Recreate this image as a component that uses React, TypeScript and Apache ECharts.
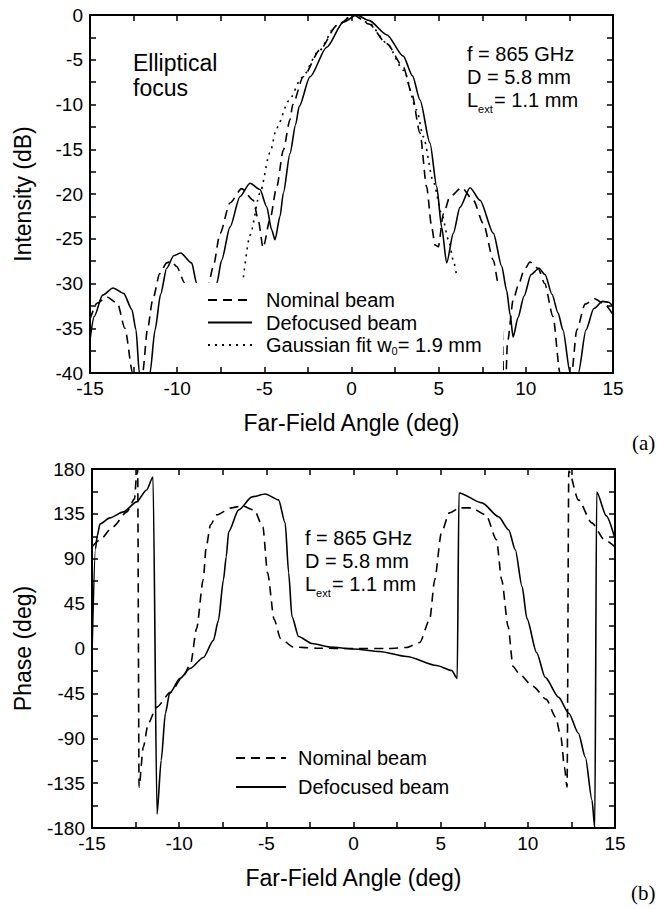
import React, { useEffect, useRef } from 'react';
import * as echarts from 'echarts';

// ---------- tick labels ----------
const angleTicks = [-15, -10, -5, 0, 5, 10, 15];
const intensityTicks = [-40, -35, -30, -25, -20, -15, -10, -5, 0];
const phaseTicks = [-180, -135, -90, -45, 0, 45, 90, 135, 180];

// ---------- series names ----------
const nominalName = 'Nominal beam';
const defocusedName = 'Defocused beam';
const gaussianName = 'Gaussian fit w0= 1.9 mm';

// ---------- (a) intensity (dB) vs far-field angle (deg) ----------
const intensityNominal: [number, number][] = [
  [-15, -34.0], [-14.6, -32.2], [-14.04, -31.5], [-13.43, -32.2], [-13.0, -35.0], [-12.55, -40], [-12.27, -46],
  [-11.98, -40], [-11.71, -35.2], [-11.4, -31.8], [-11.0, -28.9], [-10.6, -27.7], [-10.35, -27.5], [-10.03, -28.1],
  [-9.55, -30], [-9.1, -35], [-8.75, -45], [-8.45, -35], [-8.2, -30], [-7.93, -28.1], [-7.54, -24.4], [-6.97, -21.0],
  [-6.3, -19.4], [-5.63, -20.7], [-5.35, -22.9], [-5.07, -26.0], [-4.68, -22.9], [-4.29, -19.2], [-3.91, -15.1],
  [-3.53, -11.7], [-3.37, -10], [-2.77, -6.9], [-1.81, -3.9], [-0.85, -1.2], [0.1, 0], [1.0, -1.0], [2.02, -3.2],
  [2.97, -5.8], [3.45, -8.7], [3.93, -13.2], [4.31, -19.2], [4.6, -23.7], [4.79, -25.7], [4.98, -25.9], [5.27, -22.2],
  [5.65, -20.3], [6.32, -19.3], [6.99, -20.7], [7.56, -23.3], [8.14, -27.4], [8.42, -30], [8.62, -34], [8.78, -45],
  [8.95, -36.5], [9.28, -31.8], [9.57, -30.2], [9.9, -28.5], [10.24, -27.6], [10.7, -28.3], [11.08, -30],
  [11.56, -33.7], [11.96, -40], [12.3, -46], [12.63, -40], [12.92, -35.2], [13.4, -32.3], [13.95, -31.7],
  [14.5, -32.3], [15, -33.5],
];

const intensityDefocused: [number, number][] = [
  [-15, -36.3], [-14.76, -33.7], [-14.28, -31.3], [-13.68, -30.5], [-13.07, -31.1], [-12.6, -32.9], [-12.36, -35.2],
  [-12.17, -40], [-11.88, -46], [-11.56, -40], [-11.27, -35.2], [-10.95, -31.2], [-10.6, -28.3], [-10.2, -26.9],
  [-9.8, -26.6], [-9.17, -27.7], [-8.88, -30], [-8.6, -34], [-8.3, -44], [-8.0, -34], [-7.73, -30], [-7.45, -27.4],
  [-6.97, -23.7], [-6.4, -20.3], [-5.82, -18.8], [-5.25, -19.5], [-4.87, -21.4], [-4.58, -24.0], [-4.39, -25.1],
  [-4.1, -22.5], [-3.91, -19.9], [-3.53, -15.5], [-3.2, -12.2], [-3.0, -10.2], [-2.38, -6.9], [-1.42, -3.6],
  [-0.47, -0.8], [0.3, 0], [1.0, -0.6], [2.02, -2.2], [2.97, -4.6], [3.5, -6.8], [3.93, -9.5], [4.5, -14.3],
  [4.89, -19.2], [5.17, -23.7], [5.46, -27.7], [5.84, -24.4], [6.22, -21.5], [6.8, -19.3], [7.37, -20.7],
  [8.14, -24.4], [8.62, -28.1], [8.9, -30.8], [9.1, -33.5], [9.27, -36], [9.55, -33.8], [9.9, -31.4], [10.3, -29],
  [10.75, -28.3], [11.1, -29], [11.5, -31.2], [11.85, -33.3], [12.13, -35.2], [12.54, -40], [12.78, -46],
  [13.01, -40], [13.45, -35.2], [13.9, -32.8], [14.4, -32.0], [14.75, -32.1], [15, -32.6],
];

const intensityGaussian: [number, number][] = [
  [-6.2, -29.3], [-5.82, -24.6], [-5.25, -19.9], [-4.68, -15.4], [-4.29, -12.6], [-3.6, -9.6], [-2.85, -7.0],
  [-1.9, -4.1], [-0.9, -1.2], [0.1, 0], [1.0, -0.9], [2.0, -3.1], [3.0, -6.2], [3.74, -10.6], [4.12, -13.6],
  [4.69, -18.6], [5.17, -22.2], [5.56, -25.1], [5.84, -27.4], [6.05, -29.4],
];

// ---------- (b) phase (deg) vs far-field angle (deg) ----------
const phaseNominal: [number, number][] = [
  [-15, 102], [-14.54, 109], [-13.8, 122], [-13.0, 137], [-12.56, 150], [-12.45, 172], [-12.38, 180], [-12.3, -139],
  [-12.06, -99], [-11.77, -75], [-11.3, -59], [-10.5, -44], [-9.74, -27], [-9.34, -15], [-9.0, 20], [-8.62, 69],
  [-8.45, 102], [-8.2, 124], [-7.85, 134], [-7.0, 141], [-6.4, 143], [-5.7, 139], [-5.2, 122], [-4.93, 76],
  [-4.55, 29], [-4.18, 10], [-3.46, 1.5], [-2.1, 0.3], [0, 0], [2, 0], [3.05, 1], [3.8, 6], [4.37, 29], [4.66, 69],
  [5.04, 116], [5.5, 136], [6.1, 141], [6.74, 141], [7.6, 134], [8.2, 109], [8.5, 69], [8.87, 22], [9.15, -18],
  [9.53, -26], [10.3, -38], [11.06, -51], [11.6, -69], [11.9, -89], [12.1, -119], [12.25, -139], [12.35, 178],
  [12.9, 149], [13.67, 126], [14.4, 109], [15, 102],
];

const phaseDefocused: [number, number][] = [
  [-15, -5], [-14.8, 100], [-14.7, 113], [-14.54, 125], [-13.97, 131], [-13.2, 137], [-12.44, 147], [-11.87, 159],
  [-11.5, 172], [-11.27, -166], [-11.03, -112], [-10.79, -65], [-10.55, -45], [-9.95, -30], [-9.38, -20],
  [-8.61, -9], [-8.04, 8], [-7.75, 28], [-7.46, 69], [-7.3, 92], [-7.16, 117], [-6.59, 139], [-5.82, 152],
  [-5.06, 155], [-4.3, 149], [-3.92, 126], [-3.72, 76], [-3.53, 32], [-3.15, 12], [-2.38, 5], [-1.35, 1.5],
  [0, -0.5], [1.5, -3], [3.05, -8], [4.77, -17], [5.63, -22], [5.95, -30], [6.05, 156], [7.37, 146], [8.33, 132],
  [8.9, 119], [9.28, 99], [9.67, 62], [9.95, 30], [10.5, -4], [11.0, -29], [11.77, -49], [12.35, -65], [12.9, -85],
  [13.3, -109], [13.68, -152], [13.84, -180], [13.95, 157], [14.5, 133], [15, 110],
];

const SANS = "'Liberation Sans', Arial, sans-serif";
const SERIF = "'Liberation Serif', 'Times New Roman', serif";
const DASH = [9, 6];
const DOT = [2, 5];

function xAxisFor(gridIndex: number, bottom: boolean): any {
  return {
    type: 'value', gridIndex, min: -15, max: 15, interval: 2.5, position: bottom ? 'bottom' : 'top', z: 5,
    axisLine: { show: true, onZero: false, lineStyle: { color: '#000', width: 2 } },
    axisTick: { show: true, inside: true, length: 6, lineStyle: { color: '#000', width: 1.5 } },
    axisLabel: bottom
      ? { show: true, margin: 6, color: '#000', fontFamily: SANS, fontSize: 19,
          formatter: (v: number) => (angleTicks.includes(v) ? String(v) : '') }
      : { show: false },
    splitLine: { show: false },
    name: bottom ? 'Far-Field Angle (deg)' : '',
    nameLocation: 'middle', nameGap: 38,
    nameTextStyle: { color: '#000', fontFamily: SANS, fontSize: 23 },
  };
}

function yAxisFor(gridIndex: number, left: boolean, min: number, max: number, interval: number, ticks: number[], name: string, gap: number): any {
  return {
    type: 'value', gridIndex, min, max, interval, position: left ? 'left' : 'right', z: 5,
    axisLine: { show: true, onZero: false, lineStyle: { color: '#000', width: 2 } },
    axisTick: { show: true, inside: true, length: 6, lineStyle: { color: '#000', width: 1.5 } },
    axisLabel: left
      ? { show: true, margin: 7, color: '#000', fontFamily: SANS, fontSize: 19,
          formatter: (v: number) => (ticks.includes(v) ? String(v) : '') }
      : { show: false },
    splitLine: { show: false },
    name: left ? name : '',
    nameLocation: 'middle', nameGap: gap,
    nameTextStyle: { color: '#000', fontFamily: SANS, fontSize: 23 },
  };
}

function lineSeries(name: string, data: [number, number][], axisIdx: number, type: any): any {
  return {
    type: 'line', name, data, xAxisIndex: axisIdx, yAxisIndex: axisIdx,
    symbol: 'none', showSymbol: false, smooth: 0.25, smoothMonotone: 'x', clip: true,
    lineStyle: { color: '#000', width: 1.6, type },
    itemStyle: { color: '#000' },
    z: 2,
  };
}

const legendRich = {
  t: { fontFamily: SANS, fontSize: 20, color: '#000', lineHeight: 22, verticalAlign: 'middle' },
  s: { fontFamily: SANS, fontSize: 11, color: '#000', lineHeight: 10, verticalAlign: 'bottom' },
};

function legendFormatter(name: string): string {
  if (name === gaussianName) return '{t|Gaussian fit w}{s|0}{t|= 1.9 mm}';
  return '{t|' + name + '}';
}

const hiddenSymbol = { color: 'rgba(0,0,0,0)', borderColor: 'rgba(0,0,0,0)', borderWidth: 0, opacity: 0 };

function annotation(x: number, y: number, size: number): any[] {
  const base = { fill: '#000', fontFamily: SANS, fontSize: size, textVerticalAlign: 'middle', textAlign: 'left' };
  const lw = size * 0.556;
  return [
    { type: 'text', x, y, style: { ...base, text: 'f = 865 GHz' } },
    { type: 'text', x, y: y + (size + 3), style: { ...base, text: 'D = 5.8 mm' } },
    { type: 'text', x, y: y + 2 * (size + 3), style: { ...base, text: 'L' } },
    { type: 'text', x: x + lw, y: y + 2 * (size + 3) + 9, style: { ...base, fontSize: 11, text: 'ext' } },
    { type: 'text', x: x + lw + 16, y: y + 2 * (size + 3), style: { ...base, text: '= 1.1 mm' } },
  ];
}

export default function App() {
  const ref = useRef<HTMLDivElement>(null);
  useEffect(() => {
    if (!ref.current) return;
    const chart = echarts.init(ref.current, undefined, { renderer: 'svg' });
    const option: any = {
      animation: false,
      backgroundColor: '#fff',
      grid: [
        { left: 90, top: 15, width: 523, height: 358, containLabel: false },
        { left: 92, top: 469, width: 523, height: 359, containLabel: false },
      ],
      xAxis: [xAxisFor(0, true), xAxisFor(0, false), xAxisFor(1, true), xAxisFor(1, false)],
      yAxis: [
        yAxisFor(0, true, -40, 0, 2.5, intensityTicks, 'Intensity (dB)', 56),
        yAxisFor(0, false, -40, 0, 2.5, intensityTicks, '', 0),
        yAxisFor(1, true, -180, 180, 22.5, phaseTicks, 'Phase (deg)', 58),
        yAxisFor(1, false, -180, 180, 22.5, phaseTicks, '', 0),
      ],
      legend: [
        {
          data: [nominalName, defocusedName, gaussianName], orient: 'vertical', left: 207, top: 290,
          itemWidth: 44, itemHeight: 14, itemGap: 2.5, padding: 0, selectedMode: false,
          itemStyle: hiddenSymbol,
          textStyle: { padding: [0, 0, 0, 9], rich: legendRich }, formatter: legendFormatter,
        },
        {
          data: [nominalName, defocusedName], orient: 'vertical', left: 235, top: 748,
          itemWidth: 50, itemHeight: 14, itemGap: 9, padding: 0, selectedMode: false,
          itemStyle: hiddenSymbol,
          textStyle: { padding: [0, 0, 0, 7], rich: legendRich }, formatter: legendFormatter,
        },
      ],
      graphic: [
        { type: 'rect', z: 3, shape: { x: 181, y: 283, width: 322, height: 90 }, style: { fill: '#fff' } },
        { type: 'text', x: 133, y: 63, style: { text: 'Elliptical', fill: '#000', fontFamily: SANS, fontSize: 23, textVerticalAlign: 'middle' } },
        { type: 'text', x: 133, y: 88, style: { text: 'focus', fill: '#000', fontFamily: SANS, fontSize: 23, textVerticalAlign: 'middle' } },
        ...annotation(467, 54, 20),
        ...annotation(305, 538, 20),
        { type: 'text', x: 632, y: 443, style: { text: '(a)', fill: '#000', fontFamily: SERIF, fontSize: 21, textVerticalAlign: 'middle' } },
        { type: 'text', x: 631, y: 893, style: { text: '(b)', fill: '#000', fontFamily: SERIF, fontSize: 21, textVerticalAlign: 'middle' } },
      ],
      series: [
        lineSeries(nominalName, intensityNominal, 0, DASH),
        lineSeries(defocusedName, intensityDefocused, 0, 'solid'),
        lineSeries(gaussianName, intensityGaussian, 0, DOT),
        lineSeries(nominalName, phaseNominal, 2, DASH),
        lineSeries(defocusedName, phaseDefocused, 2, 'solid'),
      ],
    };
    chart.setOption(option);
    return () => chart.dispose();
  }, []);
  return <div ref={ref} style={{ position: 'absolute', left: 0, top: 0, width: 657, height: 909 }} />;
}
